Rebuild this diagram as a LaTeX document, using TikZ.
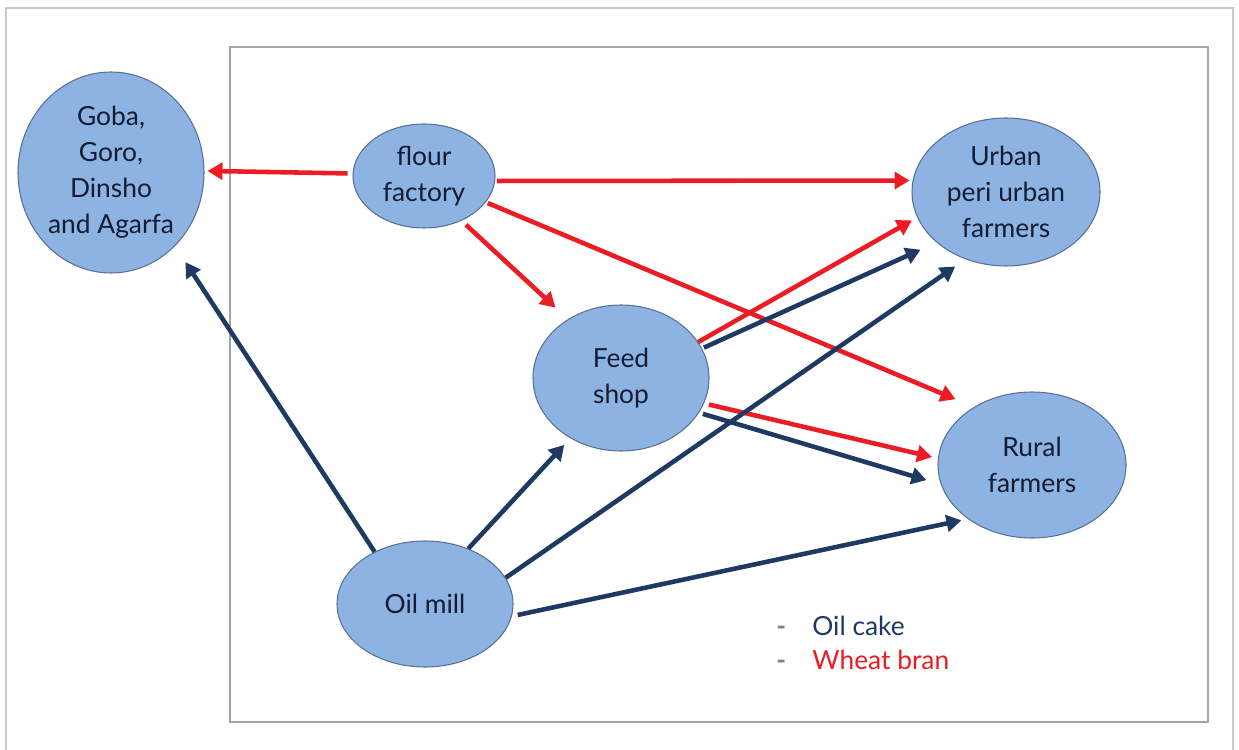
\documentclass[tikz,border=0pt]{standalone}
\usepackage{fontspec}
\setmainfont{Lato}
\usepackage{tikz}
\usetikzlibrary{positioning,shapes.geometric,arrows.meta,calc}
\definecolor{ink}     {HTML}{141B33}
\definecolor{navy}    {HTML}{1F3A62}
\definecolor{bran}    {HTML}{EC1C24}
\definecolor{bubble}  {HTML}{8DB3E2}
\definecolor{rim}     {HTML}{5A6F92}
\definecolor{frameln} {HTML}{C9C9C9}
\definecolor{boxln}   {HTML}{A3A3A3}
\tikzset{
  every node/.style={font=\fontsize{15}{20.5}\selectfont},
  % --- nodes
  actor/.style = {ellipse, draw=rim, fill=bubble, line width=0.6pt, inner sep=0pt,
                  align=center, text=ink},
  legd/.style  = {text=gray, anchor=base west, inner sep=0pt, font=\fontsize{15}{20.5}\selectfont\bfseries},
  legt/.style  = {anchor=base west, inner sep=0pt},
  % --- edges
  flow/.style  = {-{Triangle[length=8.5pt,width=9.5pt]}, line width=2.6pt},
  oc/.style    = {flow, draw=navy},
  wb/.style    = {flow, draw=bran},
}
\begin{document}
\begin{tikzpicture}
  \useasboundingbox (0,0) rectangle (24.78,14.98);
  % frames
  \draw[frameln, line width=0.9pt] (0.12,-0.4) -- (0.12,14.82) -- (24.66,14.82) -- (24.66,-0.4);
  \draw[boxln, line width=1.1pt] (4.6,0.54) rectangle (24.16,14.04);

  % actors
  \node[actor, minimum width=3.72cm, minimum height=4.02cm] (goba)  at (2.22,11.53) {Goba,\\Goro,\\Dinsho\\and Agarfa};
  \node[actor, minimum width=2.84cm, minimum height=2.08cm] (flour) at (8.48,11.46) {flour\\factory};
  \node[actor, minimum width=3.52cm, minimum height=2.92cm] (feed)  at (12.42,7.42) {Feed\\shop};
  \node[actor, minimum width=3.76cm, minimum height=2.96cm] (urban) at (20.12,11.14) {Urban\\peri urban\\farmers};
  \node[actor, minimum width=3.76cm, minimum height=2.92cm] (rural) at (20.64,5.68) {Rural\\farmers};
  \node[actor, minimum width=3.52cm, minimum height=2.52cm] (oil)   at (8.5,2.9) {Oil mill};

  % wheat bran
  \draw[wb, shorten <=0.1cm,  shorten >=0.06cm] (flour.178) -- (goba.1);
  \draw[wb, shorten <=0.04cm, shorten >=0.06cm] (flour.-4)  -- (urban.173.5);
  \draw[wb, shorten <=0.04cm, shorten >=0.4cm]  (flour.-23) -- (rural.135);
  \draw[wb, shorten <=0.12cm, shorten >=0.34cm] (flour.-50) -- (feed.132);
  \draw[wb, shorten <=0cm,    shorten >=0.12cm] (feed.25)   -- (urban.196.6);
  \draw[wb, shorten <=0.1cm,  shorten >=0.12cm] (feed.-17)  -- (rural.176);

  % oil cake
  \draw[oc, shorten >=0.38cm] (oil.134) -- (goba.-49);
  \draw[oc, shorten >=0.18cm] (oil.52)  -- (feed.230);
  \draw[oc, shorten >=0.25cm] (oil.18)  -- (urban.239.5);
  \draw[oc, shorten <=0.12cm, shorten >=0.13cm] (oil.-8.7) -- (rural.220);
  \draw[oc, shorten <=0.04cm, shorten >=0.35cm] (feed.20)  -- (urban.216.3);
  \draw[oc, shorten <=0.08cm, shorten >=0.3cm]  (feed.-24) -- (rural.192.4);

  % legend
  \node[legd] (dash1) at (15.52,2.28) {-};
  \node[legt, text=navy] (legoc) at (16.24,2.28) {Oil cake};
  \node[legd] (dash2) at (15.52,1.59) {-};
  \node[legt, text=bran] (legwb) at (16.24,1.59) {Wheat bran};
\end{tikzpicture}
\end{document}
